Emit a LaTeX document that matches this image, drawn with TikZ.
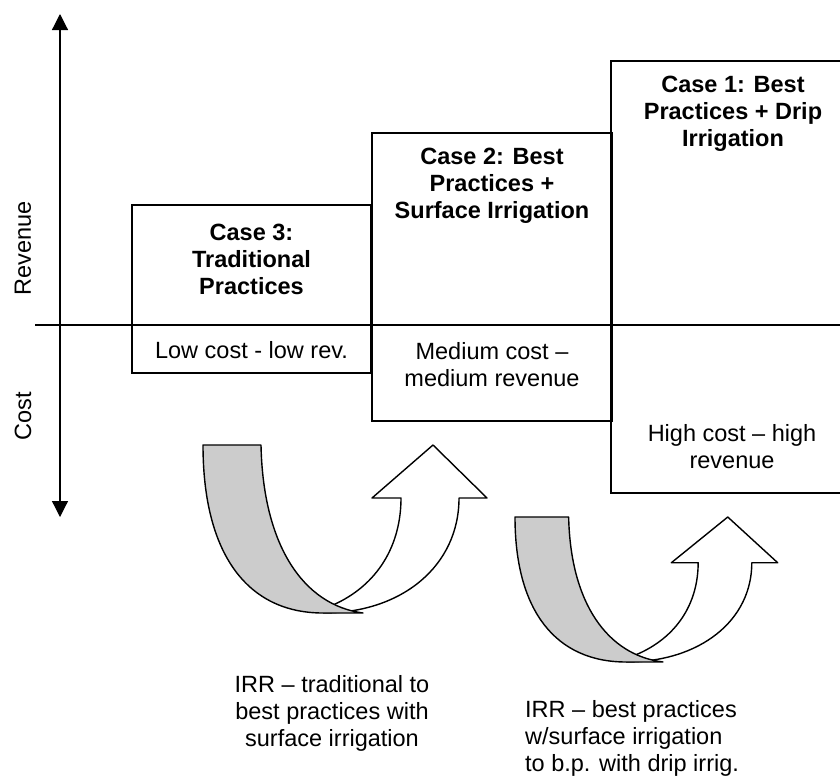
\documentclass[tikz,border=0pt]{standalone}
\usepackage{fontspec}
\setmainfont{Liberation Sans}
\usetikzlibrary{arrows.meta}

\definecolor{ribbongray}{RGB}{204,204,204}

\tikzset{
	casebox/.style={line width=1.6pt},
	casetext/.style={align=center, inner sep=0pt, font=\bfseries\fontsize{23.5}{27}\selectfont},
	plaintext/.style={align=center, inner sep=0pt, font=\fontsize{23.5}{27}\selectfont},
	ribbon/.style={line width=1.4pt, line join=round},
	axistip/.tip={Triangle[width=16pt,length=16pt]}
}

% curved arrow, drawn in its own frame (0,0 = top left of the grey band)
\newcommand{\ribbonarrow}{%
	% white front part
	\draw[ribbon] (130,160) .. controls (175,140) and (198,100) .. (198,53)
		-- (169,53) -- (230,0) -- (284,53) -- (256,53)
		.. controls (256,120) and (200,168) .. (120,168);
	% grey back part
	\draw[ribbon, fill=ribbongray] (0,0) -- (58,0)
		.. controls (60,100) and (100,160) .. (160,168) -- (120,168)
		.. controls (45,168) and (0,110) .. (0,0) -- cycle;
}

\begin{document}
\begin{tikzpicture}[x=1pt, y=-1pt]
	
	\useasboundingbox (0,0) rectangle (840,777);
	
	% axes
	\coordinate (revtop) at (60,14);
	\coordinate (costbot) at (60,517);
	\coordinate (axleft) at (35,325);
	\coordinate (axright) at (840,325);
	\draw[line width=1.2pt, axistip-axistip] (costbot) -- (revtop);
	\draw[line width=1.4pt] (axleft) -- (axright);
	
	\node[plaintext, rotate=90] (revlabel) at (23,248) {Revenue};
	\node[plaintext, rotate=90] (costlabel) at (23,416) {Cost};
	
	% boxes
	\draw[casebox] (132,205) rectangle (371,373);
	\draw[casebox] (372,133) rectangle (612,421);
	\draw[casebox] (840,61) -- (611,61) -- (611,493) -- (840,493);
	
	\node[casetext] (case3) at (251.5,259) {Case 3:\\Traditional\\Practices};
	\node[plaintext] (cost3) at (251.5,350) {Low cost - low rev.};
	
	\node[casetext] (case2) at (492,186) {Case 2: Best\\Practices +\\Surface Irrigation};
	\node[plaintext] (cost2) at (492,365) {Medium cost --\\medium revenue};
	
	\node[casetext] (case1) at (733,114) {Case 1: Best\\Practices + Drip\\Irrigation};
	\node[plaintext] (cost1) at (732,447) {High cost -- high\\revenue};
	
	% curved arrows
	\begin{scope}[shift={(203,445)}]
		\ribbonarrow
	\end{scope}
	\begin{scope}[shift={(515,517)}, xscale=0.925, yscale=0.863]
		\ribbonarrow
	\end{scope}
	
	\node[plaintext] (irr1) at (332,713) {IRR -- traditional to\\best practices with\\surface irrigation};
	\node[plaintext, align=left, anchor=west] (irr2) at (525,738) {IRR -- best practices\\w/surface irrigation\\to b.p. with drip irrig.};
	
\end{tikzpicture}
\end{document}
